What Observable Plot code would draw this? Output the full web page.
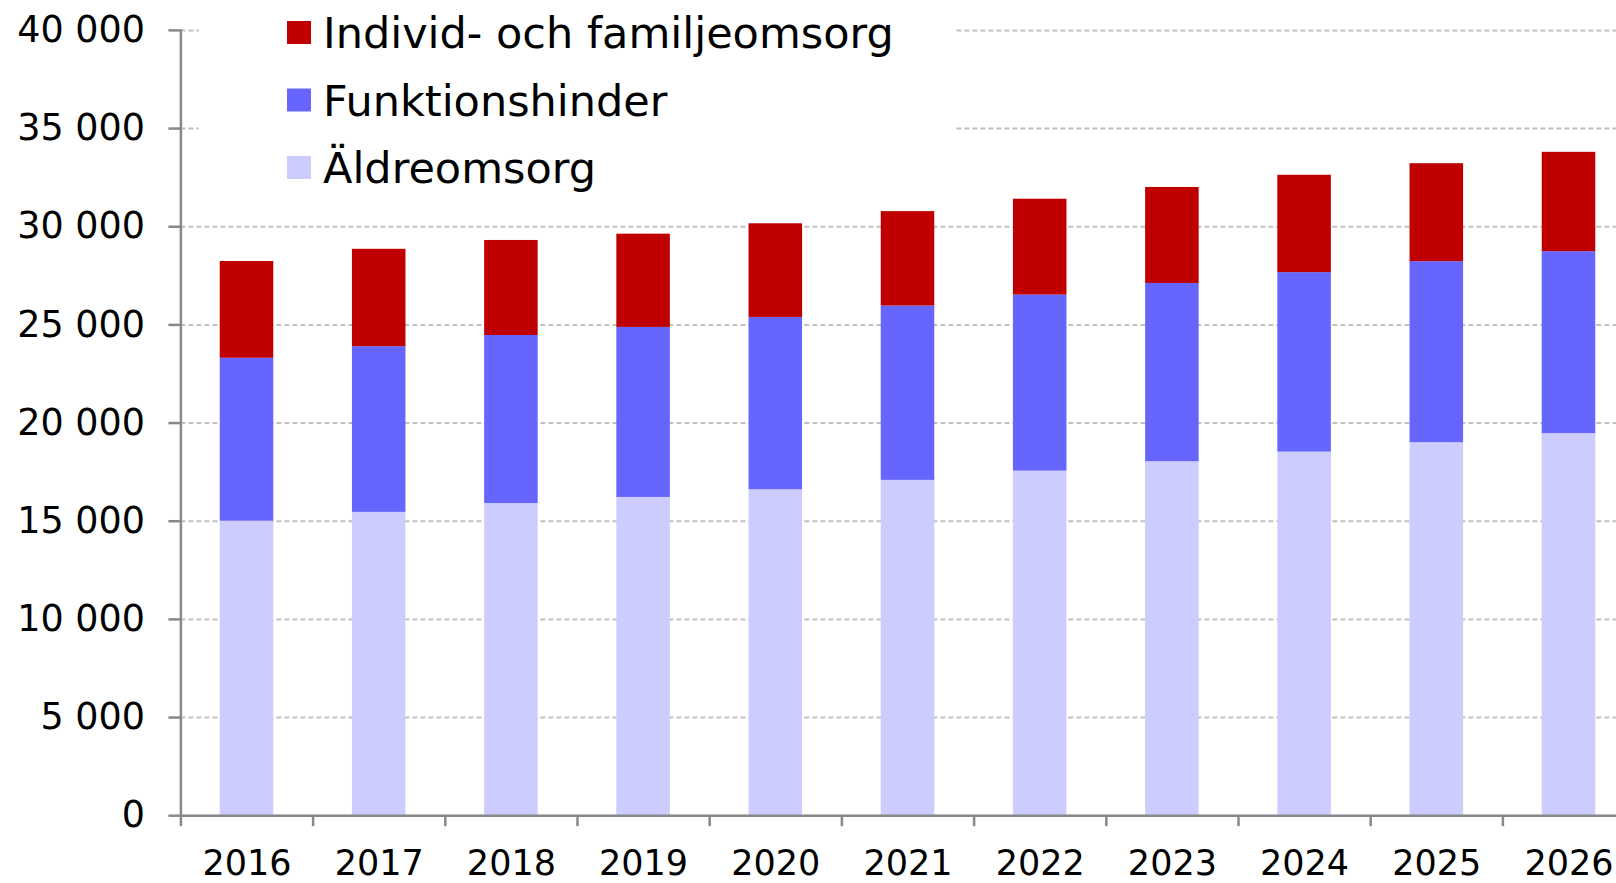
<!DOCTYPE html>
<html>
<head>
<meta charset="utf-8">
<script src="https://cdn.jsdelivr.net/npm/d3@7"></script>
<script src="https://cdn.jsdelivr.net/npm/@observablehq/plot@0.6"></script>
<style>
  html, body { margin: 0; padding: 0; background: #fff; }
  #wrap { position: relative; width: 1616px; height: 883px; overflow: hidden; }
  #legend { position: absolute; left: 0; top: 0; }
</style>
</head>
<body>
<div id="wrap"></div>
<script>
const years = ["2016","2017","2018","2019","2020","2021","2022","2023","2024","2025","2026"];
const seriesNames = ["Äldreomsorg", "Funktionshinder", "Individ- och familjeomsorg"];
const seriesColors = ["#ccccff", "#6666ff", "#c00000"];
const aldreomsorg     = [15000, 15450, 15900, 16210, 16600, 17080, 17550, 18030, 18520, 19000, 19460];
const funktionshinder = [8300, 8440, 8560, 8660, 8780, 8880, 8970, 9080, 9140, 9220, 9270];
const ifo             = [4930, 4960, 4840, 4750, 4770, 4810, 4880, 4890, 4960, 4990, 5060];
const yTicks = [0, 5000, 10000, 15000, 20000, 25000, 30000, 35000, 40000];

const seriesValues = [aldreomsorg, funktionshinder, ifo];
const data = [];
years.forEach((yr, i) => {
  seriesNames.forEach((s, k) => data.push({year: yr, series: s, value: seriesValues[k][i]}));
});

const W = 1616, H = 883;
const x0 = 180.4, step = 132.2;
const fmt = d => d3.format(",")(d).replace(/,/g, " ");

const chart = Plot.plot({
  width: W,
  height: H,
  marginLeft: x0,
  marginTop: 29.9,
  marginBottom: H - 815.2,
  marginRight: 0,
  style: {fontFamily: "'DejaVu Sans', Verdana, sans-serif", fontSize: "36px", color: "#000", background: "#fff", overflow: "visible"},
  x: {type: "band", domain: years, range: [x0, x0 + step * years.length], paddingInner: 0.595, paddingOuter: 0.2975, align: 0.5, round: false, label: null},
  y: {domain: [0, 40000], label: null},
  color: {domain: seriesNames, range: seriesColors},
  marks: [
    Plot.gridY(yTicks, {stroke: "#c0c0c0", strokeOpacity: 1, strokeWidth: 2, strokeDasharray: "5,3"}),
    Plot.barY(data, {x: "year", y: "value", fill: "series", z: "series", order: seriesNames}),
    Plot.frame({anchor: "left", stroke: "#888", strokeWidth: 2.5}),
    Plot.ruleY([0], {stroke: "#888", strokeWidth: 2.5}),
    Plot.axisY({ticks: yTicks, tickFormat: fmt, tickSize: 12, tickPadding: 24, stroke: "#888", strokeWidth: 2.5, fill: "#000", fontSize: 36.5, label: null}),
    Plot.axisX({tickSize: 11, tickFormat: () => "", dx: -step / 2, stroke: "#888", strokeWidth: 2.5, label: null}),
    Plot.axisX({tickSize: 0, tickPadding: 34.5, fill: "#000", fontSize: 35, label: null})
  ]
});

const wrap = document.getElementById("wrap");
wrap.appendChild(chart);

// legend overlay (white box covers the gridlines behind it)
const leg = d3.select(wrap).append("svg")
  .attr("id", "legend")
  .attr("width", W).attr("height", 210)
  .style("position", "absolute").style("left", "0px").style("top", "0px")
  .style("pointer-events", "none");
leg.append("rect").attr("x", 199).attr("y", 0).attr("width", 956 - 199).attr("height", 205).attr("fill", "#fff");
const legOrder = [2, 1, 0];
legOrder.forEach((k, j) => {
  const cy = 32.5 + j * 67.5;
  leg.append("rect").attr("x", 287).attr("y", cy - 11.5).attr("width", 24).attr("height", 23).attr("fill", seriesColors[k]);
  leg.append("text").attr("x", 323).attr("y", cy + 15.5)
    .attr("font-family", "'DejaVu Sans', Verdana, sans-serif").attr("font-size", 43).attr("fill", "#000")
    .text(seriesNames[k]);
});
</script>
</body>
</html>
